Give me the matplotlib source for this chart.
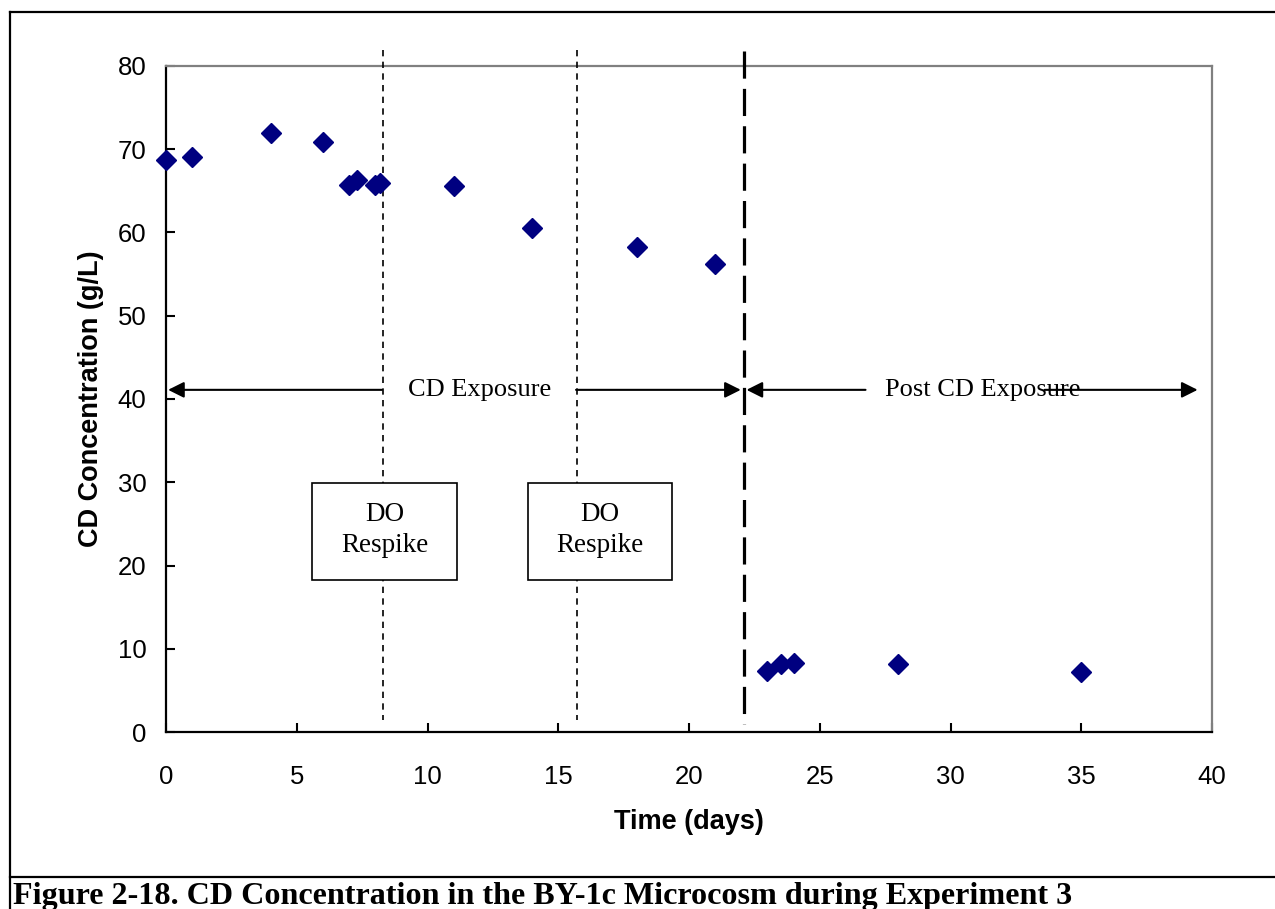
import matplotlib
matplotlib.use("Agg")
import matplotlib.pyplot as plt
from matplotlib.patches import Rectangle
from matplotlib.lines import Line2D

# CD concentration readings (g/L) vs time (days)
days = [0, 1, 4, 6, 7, 7.3, 8, 8.2, 11, 14, 18, 21, 23, 23.5, 24, 28, 35]
conc = [68.7, 69.1, 72.0, 70.9, 65.7, 66.3, 65.7, 66.0, 65.6, 60.6, 58.3, 56.2,
        7.3, 8.2, 8.3, 8.2, 7.2]

respike_days = [8.3, 15.7]
exposure_end = 22.1
x_ticks = [0, 5, 10, 15, 20, 25, 30, 35, 40]
y_ticks = [0, 10, 20, 30, 40, 50, 60, 70, 80]

fig = plt.figure(figsize=(12.75, 9.09), dpi=100)
ax = fig.add_axes([166 / 1275, 1 - 732 / 909, (1212 - 166) / 1275, (732 - 66) / 909])

ax.plot(days, conc, linestyle="none", marker="D", markersize=10,
        color="#000080", zorder=5, clip_on=False)

ax.set_xlim(0, 40)
ax.set_ylim(0, 80)
ax.set_xticks(x_ticks)
ax.set_yticks(y_ticks)
ax.tick_params(direction="in", length=6.5, width=1.5, labelsize=18.5, color="k")
ax.tick_params(axis="y", pad=14)
ax.tick_params(axis="x", pad=24)
for lab in ax.get_xticklabels() + ax.get_yticklabels():
    lab.set_fontfamily("Liberation Sans")

for s in ["left", "bottom"]:
    ax.spines[s].set_linewidth(1.6)
    ax.spines[s].set_color("k")
for s in ["top", "right"]:
    ax.spines[s].set_linewidth(1.6)
    ax.spines[s].set_color("#808080")

ax.set_xlabel("Time (days)", fontsize=19.5, fontweight="bold",
              fontfamily="Liberation Sans", labelpad=14)
ax.set_ylabel("CD Concentration (g/L)", fontsize=19.5, fontweight="bold",
              fontfamily="Liberation Sans", labelpad=10)

# respike markers and end of exposure
for d in respike_days:
    ax.plot([d, d], [81.9, 1.4], color="k", lw=1.2, linestyle=(0, (3.8, 3.2)),
            clip_on=False, zorder=3)
ax.plot([exposure_end, exposure_end], [81.8, 1.0], color="k", lw=2.3,
        linestyle=(0, (8.5, 3.2)), clip_on=False, zorder=3)

# phase arrows
arrow_y = 41.1
ap = dict(arrowstyle="-|>", mutation_scale=24, lw=1.5, color="k",
          shrinkA=0, shrinkB=0)
ax.annotate("", xy=(0.08, arrow_y), xytext=(8.26, arrow_y), arrowprops=ap)
ax.annotate("", xy=(21.98, arrow_y), xytext=(15.68, arrow_y), arrowprops=ap)
ax.annotate("", xy=(22.2, arrow_y), xytext=(26.75, arrow_y), arrowprops=ap)
ax.annotate("", xy=(39.45, arrow_y), xytext=(33.6, arrow_y), arrowprops=ap)
ax.text(12.0, arrow_y, "CD Exposure", ha="center", va="center", fontsize=19,
        fontfamily="Liberation Serif")
ax.text(27.5, arrow_y, "Post CD Exposure", ha="left", va="center", fontsize=19,
        fontfamily="Liberation Serif", zorder=1)

# DO respike boxes
for x0, x1 in [(5.58, 11.13), (13.84, 19.35)]:
    ax.add_patch(Rectangle((x0, 18.26), x1 - x0, 29.9 - 18.26, facecolor="white",
                           edgecolor="k", lw=1.2, zorder=4))
    ax.text((x0 + x1) / 2, 24.3, "DO\nRespike", ha="center", va="center",
            fontsize=19.5, fontfamily="Liberation Serif", linespacing=1.32, zorder=6)

# outer frame and caption
fig.add_artist(Line2D([10 / 1275, 10 / 1275], [1 - 12 / 909, 0], color="k", lw=1.6))
fig.add_artist(Line2D([10 / 1275, 1], [1 - 12 / 909, 1 - 12 / 909], color="k", lw=1.6))
fig.add_artist(Line2D([10 / 1275, 1], [1 - 877 / 909, 1 - 877 / 909], color="k", lw=1.6))
fig.text(13 / 1275, 1 - 904 / 909,
         "Figure 2-18. CD Concentration in the BY-1c Microcosm during Experiment 3",
         fontsize=23.1, fontweight="bold", fontfamily="Liberation Serif",
         ha="left", va="baseline")

fig.savefig("out.png", dpi=100)
